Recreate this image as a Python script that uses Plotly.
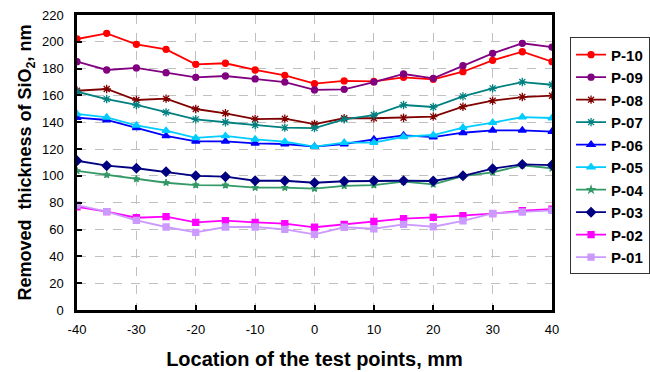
import plotly.graph_objects as go

x = [-40, -35, -30, -25, -20, -15, -10, -5, 0, 5, 10, 15, 20, 25, 30, 35, 40]

p10 = [202.1, 206.3, 198.1, 194.4, 183.2, 184.0, 179.0, 175.0, 168.8, 170.8, 170.5, 173.5, 172.0, 177.7, 186.2, 192.6, 185.2]
p09 = [185.2, 179.0, 180.5, 177.0, 173.5, 174.5, 172.3, 170.0, 164.1, 164.6, 170.0, 176.0, 172.8, 182.2, 191.4, 198.9, 196.1]
p08 = [163.5, 164.8, 156.6, 157.6, 149.9, 146.7, 142.4, 142.7, 138.7, 143.0, 143.0, 143.4, 144.2, 151.6, 156.1, 158.8, 159.8]
p07 = [162.8, 157.3, 152.9, 147.4, 142.2, 140.0, 138.0, 136.0, 135.7, 142.2, 145.4, 152.9, 151.4, 159.3, 165.3, 170.0, 168.0]
p06 = [143.4, 141.7, 135.9, 129.8, 125.8, 125.8, 124.3, 123.8, 121.8, 123.8, 127.3, 130.3, 129.0, 132.2, 134.0, 134.0, 133.0]
p05 = [146.2, 143.7, 137.7, 133.7, 128.3, 129.8, 127.3, 125.5, 121.8, 124.8, 124.8, 129.2, 130.5, 136.0, 139.7, 143.9, 143.2]
p04 = [103.7, 100.7, 97.7, 94.9, 93.2, 93.0, 91.2, 91.2, 90.5, 92.5, 93.2, 95.7, 93.7, 99.9, 102.7, 107.9, 105.7]
p03 = [111.3, 107.6, 105.7, 103.1, 100.1, 99.4, 96.4, 96.4, 94.9, 96.0, 96.4, 96.4, 96.2, 100.1, 105.4, 108.6, 108.1]
p02 = [77.0, 73.3, 68.8, 69.6, 65.4, 66.6, 65.4, 64.4, 61.7, 63.9, 66.1, 68.1, 69.1, 70.3, 71.8, 74.0, 75.3]
p01 = [78.3, 73.3, 66.9, 61.9, 57.9, 61.9, 61.9, 60.2, 56.4, 61.7, 60.6, 63.9, 62.1, 66.4, 72.1, 73.1, 74.3]

x_ticks = [-40, -30, -20, -10, 0, 10, 20, 30, 40]
y_ticks = [0, 20, 40, 60, 80, 100, 120, 140, 160, 180, 200, 220]

series = [
    ("P-10", p10, "#FF0000", "circle", 6),
    ("P-09", p09, "#800080", "circle", 6),
    ("P-08", p08, "#800000", "asterisk-open", 7),
    ("P-07", p07, "#008080", "asterisk-open", 7),
    ("P-06", p06, "#0000FF", "triangle-up", 7),
    ("P-05", p05, "#00CCFF", "triangle-up", 7),
    ("P-04", p04, "#339966", "star", 5),
    ("P-03", p03, "#000080", "diamond", 7),
    ("P-02", p02, "#FF00FF", "square", 6),
    ("P-01", p01, "#CC99FF", "square", 6),
]

fig = go.Figure()
for name, vals, col, sym, sz in series:
    fig.add_trace(go.Scatter(
        x=x, y=vals, name=name, mode="lines+markers",
        line=dict(color=col, width=1.8),
        marker=dict(symbol=sym, size=sz, color=col, line=dict(color=col, width=1.3)),
    ))

fig.update_layout(
    width=650, height=372,
    margin=dict(l=77, r=98, t=15, b=62, autoexpand=False),
    paper_bgcolor="white", plot_bgcolor="white",
    font=dict(family="Liberation Sans, Arial, sans-serif", color="black", size=13),
    legend=dict(
        x=1.038, y=0.924, xanchor="left", yanchor="top",
        bordercolor="#333333", borderwidth=1,
        font=dict(size=15, family="Liberation Sans, Arial, sans-serif", color="black", weight="bold"),
        itemwidth=30, tracegroupgap=0,
    ),
    showlegend=True,
)
fig.update_xaxes(
    range=[-40, 40], tickvals=x_ticks, ticktext=[str(v) for v in x_ticks],
    showline=True, linecolor="black", linewidth=2.5, mirror=True,
    ticks="inside", ticklen=5, tickwidth=2, tickcolor="black",
    showgrid=True, gridcolor="#C0C0C0", griddash="dash", gridwidth=1,
    zeroline=False, ticklabelstandoff=6, automargin=False,
    title=dict(text="<b>Location of the test points, mm</b>", font=dict(size=20), standoff=16),
)
fig.update_yaxes(
    range=[0, 220], tickvals=y_ticks, ticktext=[str(v) for v in y_ticks],
    showline=True, linecolor="black", linewidth=2.5, mirror=True,
    ticks="inside", ticklen=5, tickwidth=2, tickcolor="black",
    showgrid=True, gridcolor="#C0C0C0", griddash="dash", gridwidth=1,
    zeroline=False, ticklabelstandoff=8, automargin=False,
    title=dict(text="<b>Removed  thickness of SiO<sub>2</sub>, nm</b>", font=dict(size=18), standoff=6),
)

fig.write_html("out.html", config={"displayModeBar": False},
               post_script="document.body.style.margin='0';")
